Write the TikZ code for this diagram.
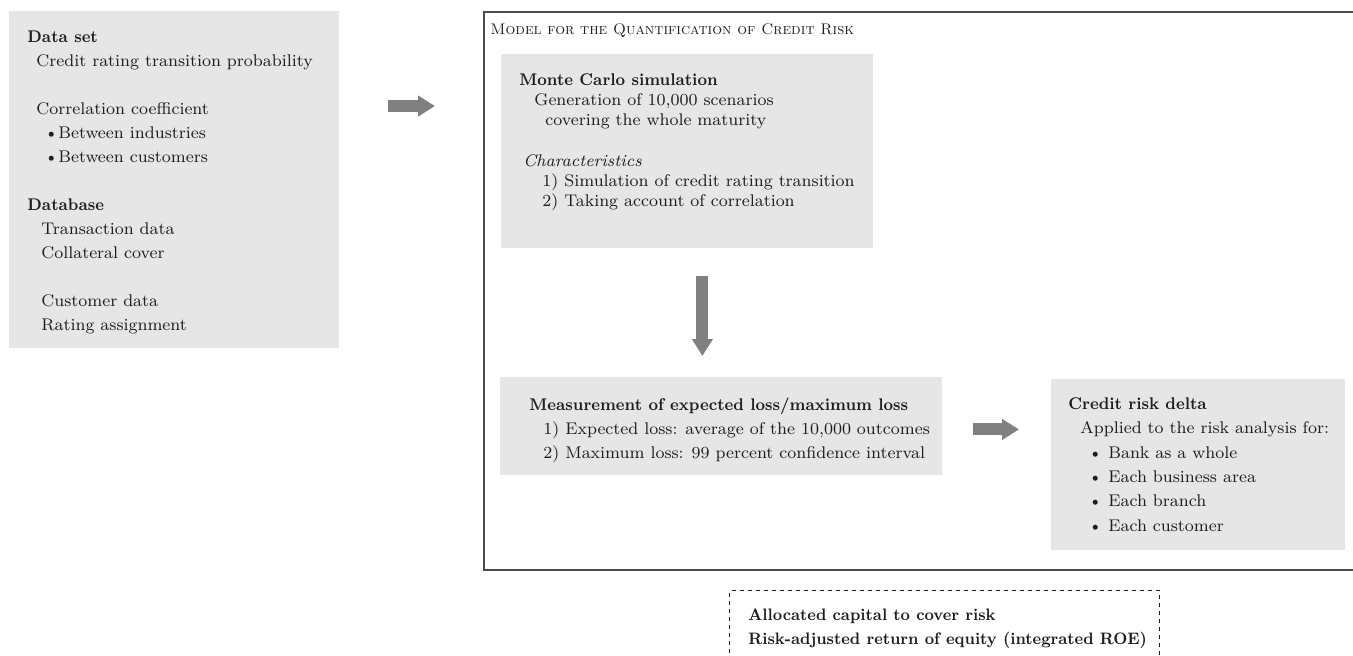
\documentclass[tikz,border=0pt]{standalone}
\usetikzlibrary{arrows.meta,calc,positioning}
\definecolor{panelgray}{HTML}{E6E6E6}
\definecolor{arrowgray}{HTML}{808080}
\definecolor{framegray}{HTML}{4A4A4A}
\definecolor{ink}{HTML}{1E1E1E}
\newcommand{\bodyfont}{\fontsize{8.45}{12}\selectfont}
\newcommand{\hd}[1]{{\bfseries\scalebox{.92}[1]{#1}}}
\tikzset{
  panel/.style={fill=panelgray,inner sep=0pt,anchor=north west},
  txt/.style={anchor=north west,align=left,inner sep=0pt,text=ink,font=\bodyfont},
  blockarrow/.style={draw=arrowgray,line width=6pt,-{Triangle[length=8.5pt,width=10pt]}},
  frame/.style={draw=framegray,line width=1pt,inner sep=0pt,anchor=north west},
  dashbox/.style={draw=ink,dash pattern=on 2pt off 2pt,line width=.5pt,inner sep=0pt,anchor=north west}}
\begin{document}
\begin{tikzpicture}[x=.5pt,y=-.5pt]
\useasboundingbox(0,0)rectangle(1353,655);\clip(0,0)rectangle(1353,655);
\node[panel,minimum width=165pt,minimum height=168.5pt](dataset)at(9,11){};
\node[txt](dataset text)at(27,30){\hd{Data set}\\
\hspace*{4.5pt}Credit rating transition probability\\[12pt]
\hspace*{4.5pt}Correlation coefficient\\
\hspace*{8.5pt}\textbullet Between industries\\
\hspace*{8.5pt}\textbullet Between customers\\[12pt]
\hd{Database}\\
\hspace*{7pt}Transaction data\\
\hspace*{7pt}Collateral cover\\[12pt]
\hspace*{7pt}Customer data\\
\hspace*{7pt}Rating assignment};
\node[frame,minimum width=440pt,minimum height=279pt](model)at(483,11){};
\node[txt,anchor=west,font=\fontsize{7.7}{10}\selectfont](model title)at(490,31){\textsc{Model for the Quantification of Credit Risk}};
\node[panel,minimum width=186pt,minimum height=97pt](mc)at(501,54){};
\node[txt,font=\fontsize{8.45}{10.1}\selectfont](mc text)at(519,73){\hd{Monte Carlo simulation}\\
\hspace*{7.5pt}Generation of 10,000 scenarios\\
\hspace*{13pt}covering the whole maturity\\[10.1pt]
\hspace*{2pt}\textit{Characteristics}\\
\hspace*{11.5pt}1) Simulation of credit rating transition\\
\hspace*{11.5pt}2) Taking account of correlation};
\node[panel,minimum width=221pt,minimum height=49pt](meas)at(500,377){};
\node[txt](meas text)at(529,397){\hd{Measurement of expected loss/maximum loss}\\
\hspace*{7pt}1) Expected loss: average of the 10,000 outcomes\\
\hspace*{7pt}2) Maximum loss: 99 percent confidence interval};
\node[panel,minimum width=147pt,minimum height=85.5pt](credit)at(1051,379){};
\node[txt,font=\fontsize{8.45}{12.2}\selectfont](credit text)at(1068,397){\hd{Credit risk delta}\\
\hspace*{6pt}Applied to the risk analysis for:\\
\hspace*{10pt}\textbullet\ Bank as a whole\\
\hspace*{10pt}\textbullet\ Each business area\\
\hspace*{10pt}\textbullet\ Each branch\\
\hspace*{10pt}\textbullet\ Each customer};
\node[dashbox,minimum width=215pt,minimum height=45pt](capital)at(729,590){};
\node[txt,font=\fontsize{8.3}{12.2}\selectfont](capital text)at(748,608){\hd{Allocated capital to cover risk}\\
\hd{Risk-adjusted return of equity (integrated ROE)}};
\draw[blockarrow]($(dataset.north east)+(48,95)$)--($(model.north west)+(-48,95)$);
\draw[blockarrow]([shift={(15,27)}]mc.south)--([shift={(-19,-21)}]meas.north);
\draw[blockarrow]([shift={(30,3)}]meas.east)--($(credit.west|-meas.east)+(-32,3)$);
\end{tikzpicture}
\end{document}
